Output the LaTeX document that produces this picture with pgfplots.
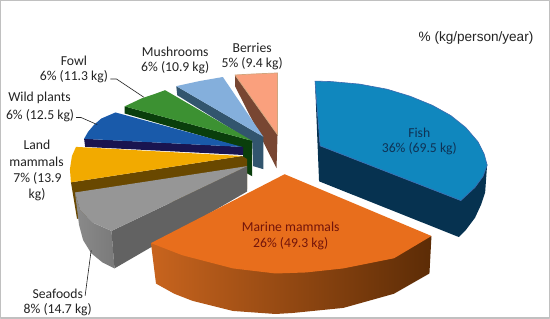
\documentclass[border=0pt]{standalone}
\usepackage{fontspec}
\setmainfont{Carlito}
\newfontfamily\arialf{Liberation Sans}
\usepackage{pgfplots}
\pgfplotsset{compat=1.18}
\definecolor{frameC}{RGB}{192,192,192}
\definecolor{fishT}{RGB}{16,135,190}
\definecolor{fishS}{RGB}{6,50,80}
\definecolor{fishE}{RGB}{60,105,175}
\definecolor{marT}{RGB}{232,110,28}
\definecolor{marL}{RGB}{200,100,30}
\definecolor{marM}{RGB}{130,62,12}
\definecolor{marR}{RGB}{92,44,6}
\definecolor{seaT}{RGB}{150,150,150}
\definecolor{seaO}{RGB}{122,122,122}
\definecolor{seaOL}{RGB}{138,138,138}
\definecolor{seaI}{RGB}{98,98,98}
\definecolor{lanT}{RGB}{242,170,0}
\definecolor{lanS}{RGB}{105,72,0}
\definecolor{wilT}{RGB}{25,90,170}
\definecolor{wilS}{RGB}{25,20,80}
\definecolor{fowT}{RGB}{60,145,50}
\definecolor{fowS}{RGB}{10,62,12}
\definecolor{musT}{RGB}{132,175,220}
\definecolor{musS}{RGB}{50,85,110}
\definecolor{berT}{RGB}{250,160,125}
\definecolor{berE}{RGB}{208,165,125}
\definecolor{berS}{RGB}{120,70,50}
\definecolor{lab}{RGB}{35,35,35}
\begin{document}
\begin{tikzpicture}
\begin{axis}[
  scale only axis, width=550pt, height=321pt,
  xmin=0, xmax=550, ymin=0, ymax=321, y dir=reverse,
  hide axis, clip=true,
  every axis plot/.append style={mark=none, line join=round}
]
% frame
\addplot[draw=frameC, line width=1.1pt, fill=white] coordinates {(3.5,3.5) (545.5,3.5) (545.5,317) (3.5,317)} -- cycle;
% Berries
\addplot[draw=none, fill=berS] coordinates {(235,77) (235,88) (276,169) (277,136)} -- cycle;
\addplot[draw=berE, line width=0.7pt, fill=berT] coordinates {(235,77) (253,76) (277,75) (277,136)} -- cycle;
% Mushrooms
\addplot[draw=none, fill=musS] coordinates {(177,88) (178,97) (252,143) (253,167) (263,170) (263,138)} -- cycle;
\addplot[draw=none, fill=musT] coordinates {(177,88) (200,83) (223,79) (263,138)} -- cycle;
% Fowl
\addplot[draw=none, fill=fowS] coordinates {(126,108) (126,115) (243,149) (243,172) (252,177) (252,142)} -- cycle;
\addplot[draw=none, fill=fowT] coordinates {(126,108) (143,100) (155,96) (166,92) (252,142)} -- cycle;
% Wild plants
\addplot[draw=none, fill=wilS] coordinates {(86,140) (87,148) (243,156) (243,148)} -- cycle;
\addplot[draw=none, fill=wilT] coordinates {(86,140) (90,133) (96,126) (103,120) (117,114) (242,148)} -- cycle;
% Land mammals
\addplot[draw=none, fill=lanS] coordinates {(73,183) (79,219) (247,190) (247,160) (242,157)} -- cycle;
\addplot[draw=none, fill=lanT] coordinates {(78,148) (74,157) (72,170) (73,183) (242,157)} -- cycle;
% Seafoods
\addplot[draw=none, left color=seaOL, right color=seaO] coordinates {(77,193) (82,210) (95,223) (113,231) (116,268) (104,262) (93,253) (85,240) (81,225)} -- cycle;
\addplot[draw=none, fill=seaI] coordinates {(113,231) (116,268) (247,192) (247,167)} -- cycle;
\addplot[draw=none, fill=seaT] coordinates {(77,193) (82,210) (95,223) (113,231) (247,167)} -- cycle;
% Marine mammals
\addplot[draw=none, left color=marL, middle color=marM, right color=marR] coordinates {(152,243) (157,283) (175,293) (193,300) (233,310) (275,313) (292,312) (342,307) (392,293) (427,273) (429,236)} -- cycle;
\addplot[draw=none, fill=marT] coordinates {(284,175) (429,236) (392,258) (342,268) (305,272) (275,273) (233,268) (183,255) (152,243)} -- cycle;
% Fish
\addplot[draw=none, fill=fishS] coordinates {(314,83) (318,182) (456,237) (463,230) (472,218) (478,205) (482,193) (484,165) (458,201) (319,147)} -- cycle;
\addplot[draw=fishE, line width=0.6pt, fill=fishT] coordinates {(314,83) (330,83.5) (358,86) (385,91) (408,98) (430,107) (448,117) (463,129) (475,143) (481,155) (484,166) (480,177) (472,188) (458,201) (319,147)} -- cycle;
% leaders
\addplot[draw=lab, line width=0.6pt] coordinates {(112,81) (118,81) (145,99)};
\addplot[draw=lab, line width=0.6pt] coordinates {(78,119) (83,119) (99,126)};
\addplot[draw=lab, line width=0.6pt] coordinates {(87,295) (93,250)};
% labels
\tikzset{lb/.style={font=\fontsize{13.5pt}{14pt}\selectfont, text=lab, inner sep=0pt, anchor=center, yshift=-2pt}}
\node[lb] at (axis cs:76,61) {Fowl};
\node[lb] at (axis cs:76,77) {6\% (11.3 kg)};
\node[lb] at (axis cs:176,52) {Mushrooms};
\node[lb] at (axis cs:176,68) {6\% (10.9 kg)};
\node[lb] at (axis cs:252,48) {Berries};
\node[lb] at (axis cs:252,64) {5\% (9.4 kg)};
\node[lb] at (axis cs:42,98) {Wild plants};
\node[lb] at (axis cs:42.5,115) {6\% (12.5 kg)};
\node[lb] at (axis cs:39.5,144) {Land};
\node[lb] at (axis cs:39,161) {mammals};
\node[lb] at (axis cs:40,177) {7\% (13.9};
\node[lb] at (axis cs:39.5,193) {kg)};
\node[lb] at (axis cs:60,291) {Seafoods};
\node[lb] at (axis cs:60,307) {8\% (14.7 kg)};
\node[lb, text={rgb,255:red,15;green,50;blue,85}] at (axis cs:417,132) {Fish};
\node[lb, text={rgb,255:red,15;green,50;blue,85}] at (axis cs:417,148) {36\% (69.5 kg)};
\node[lb, text={rgb,255:red,115;green,20;blue,10}] at (axis cs:290,225) {Marine mammals};
\node[lb, text={rgb,255:red,115;green,20;blue,10}] at (axis cs:290,242) {26\% (49.3 kg)};
\node[lb, font=\arialf\fontsize{13.4pt}{14pt}\selectfont] at (axis cs:473,38) {\% (kg/person/year)};
\end{axis}
\end{tikzpicture}
\end{document}
